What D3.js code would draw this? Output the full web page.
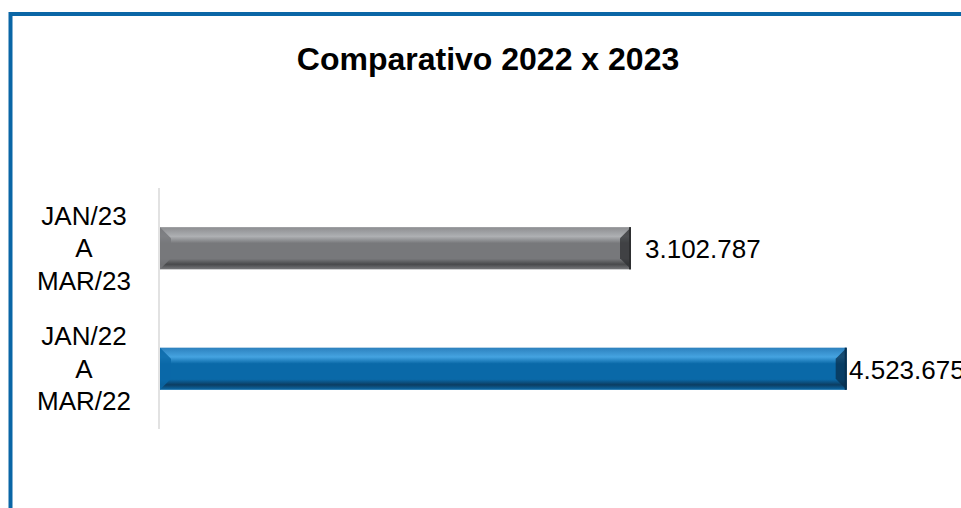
<!DOCTYPE html>
<html>
<head>
<meta charset="utf-8">
<script src="https://cdn.jsdelivr.net/npm/d3@7"></script>
<style>
  body { margin: 0; background: #fff; }
  text { font-family: "Liberation Sans", Arial, sans-serif; fill: #000; }
</style>
</head>
<body>
<div id="chart"></div>
<script>
// Chart data
const categories = ["JAN/23\nA\nMAR/23", "JAN/22\nA\nMAR/22"];
const values = [3102787, 4523675];
const valueLabels = ["3.102.787", "4.523.675"];
const title = "Comparativo 2022 x 2023";

// Canvas size
const width = 961;
const height = 508;

const svg = d3.select("#chart")
    .append("svg")
    .attr("width", width)
    .attr("height", height);

// Bar colour sets: [top edge, highlight, body, bottom shade, end shade]
const palettes = [
    { edge: "#8c8d90", light: "#aeb0b3", body: "#77787b", dark: "#48494b", end: "#2e2f31" },
    { edge: "#2c80bd", light: "#45a3e0", body: "#0a69a8", dark: "#0c3d61", end: "#08304f" }
];

const defs = svg.append("defs");
palettes.forEach((p, i) => {
    const g = defs.append("linearGradient")
        .attr("id", "bar-grad-" + i)
        .attr("x1", 0).attr("y1", 0).attr("x2", 0).attr("y2", 1);
    g.append("stop").attr("offset", "0%").attr("stop-color", p.edge);
    g.append("stop").attr("offset", "22%").attr("stop-color", p.light);
    g.append("stop").attr("offset", "38%").attr("stop-color", p.body);
    g.append("stop").attr("offset", "75%").attr("stop-color", p.body);
    g.append("stop").attr("offset", "88%").attr("stop-color", p.dark);
    g.append("stop").attr("offset", "100%").attr("stop-color", p.body);
});

// Outer frame (blue border, cut off on right and bottom)
svg.append("rect")
    .attr("x", 10.5)
    .attr("y", 14)
    .attr("width", width + 20)
    .attr("height", height + 20)
    .attr("fill", "none")
    .attr("stroke", "#0a66a6")
    .attr("stroke-width", 4);

// Title
svg.append("text")
    .attr("x", 488)
    .attr("y", 70)
    .attr("text-anchor", "middle")
    .style("font-size", "32px")
    .style("font-weight", "bold")
    .text(title);

// Scales
const x = d3.scaleLinear()
    .domain([0, 5000000])
    .range([160, 919]);

const y = d3.scaleBand()
    .domain(categories)
    .range([188, 429])
    .paddingInner(0.65)
    .paddingOuter(0.325);

// Category axis line
svg.append("line")
    .attr("x1", 159).attr("x2", 159)
    .attr("y1", 188).attr("y2", 429)
    .attr("stroke", "#d9d9d9")
    .attr("stroke-width", 1.5);

// Bars
const bevel = 11;
const bars = svg.selectAll("g.bar")
    .data(values)
    .enter()
    .append("g")
    .attr("class", "bar");

bars.append("rect")
    .attr("x", x(0))
    .attr("y", (d, i) => y(categories[i]))
    .attr("width", d => x(d) - x(0))
    .attr("height", y.bandwidth())
    .attr("fill", (d, i) => `url(#bar-grad-${i})`);

// Left bevel face
bars.append("polygon")
    .attr("points", (d, i) => {
        const y0 = y(categories[i]), y1 = y0 + y.bandwidth(), x0 = x(0);
        return [[x0, y0], [x0 + bevel, y0 + bevel], [x0 + bevel, y1 - bevel], [x0, y1]].join(" ");
    })
    .attr("fill", (d, i) => palettes[i].body)
    .attr("opacity", 0.85);

// Right bevel face
bars.append("polygon")
    .attr("points", (d, i) => {
        const y0 = y(categories[i]), y1 = y0 + y.bandwidth(), x1 = x(d);
        return [[x1, y0], [x1 - bevel, y0 + bevel], [x1 - bevel, y1 - bevel], [x1, y1]].join(" ");
    })
    .attr("fill", (d, i) => palettes[i].end)
    .attr("opacity", 0.75);

// Thin right edge line
bars.append("line")
    .attr("x1", d => x(d) - 1).attr("x2", d => x(d) - 1)
    .attr("y1", (d, i) => y(categories[i]))
    .attr("y2", (d, i) => y(categories[i]) + y.bandwidth())
    .attr("stroke", (d, i) => palettes[i].end)
    .attr("stroke-width", 2);

// Value labels (pushed left when they would overflow)
svg.selectAll("text.value")
    .data(values)
    .enter()
    .append("text")
    .attr("class", "value")
    .attr("x", d => Math.min(x(d) + 14, x.range()[1] - 70))
    .attr("y", (d, i) => y(categories[i]) + y.bandwidth() / 2 + 10)
    .style("font-size", "26px")
    .text((d, i) => valueLabels[i]);

// Category labels, three lines each
const catLabels = svg.selectAll("text.cat")
    .data(categories)
    .enter()
    .append("text")
    .attr("class", "cat")
    .attr("text-anchor", "middle")
    .style("font-size", "26px");

catLabels.selectAll("tspan")
    .data(d => d.split("\n").map(line => ({ line, cat: d })))
    .enter()
    .append("tspan")
    .attr("x", 84)
    .attr("y", (d, j) => y(d.cat) + y.bandwidth() / 2 - 23.5 + j * 32.5)
    .text(d => d.line);
</script>
</body>
</html>
